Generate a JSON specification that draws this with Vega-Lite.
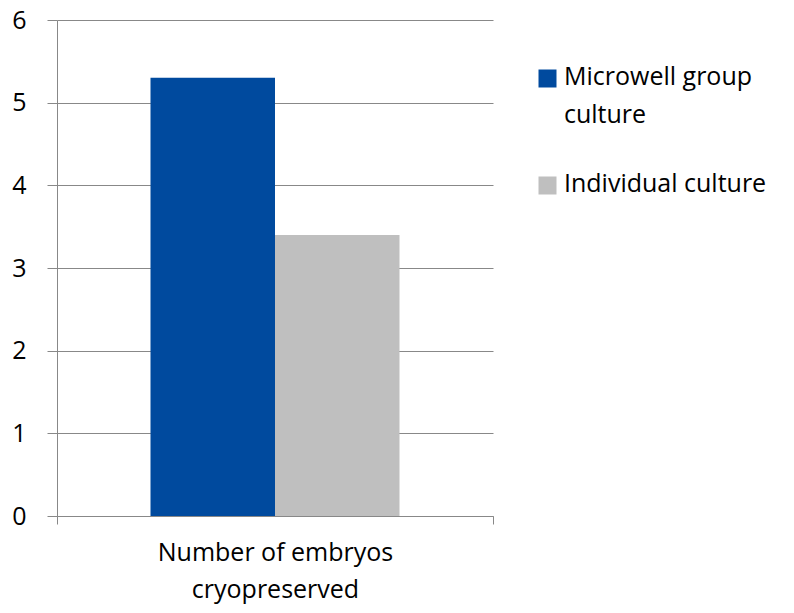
{
  "$schema": "https://vega.github.io/schema/vega-lite/v6.json",
  "width": 436,
  "height": 496,
  "autosize": {"type": "none"},
  "padding": {"left": 57, "top": 20, "right": 301, "bottom": 97},
  "background": "white",
  "config": {
    "view": {"stroke": null},
    "font": "Open Sans"
  },
  "data": {
    "values": [
      {"category": "Number of embryos cryopreserved", "series": "Microwell group culture", "value": 5.3},
      {"category": "Number of embryos cryopreserved", "series": "Individual culture", "value": 3.4}
    ]
  },
  "mark": {"type": "bar"},
  "encoding": {
    "x": {
      "field": "category",
      "type": "nominal",
      "scale": {"paddingInner": 0, "paddingOuter": 0},
      "axis": {
        "title": null,
        "labelAngle": 0,
        "labelFontSize": 25,
        "labelColor": "#000000",
        "labelPadding": 16,
        "labelLineHeight": 37,
        "labelLimit": 600,
        "labelExpr": "datum.label == 'Number of embryos cryopreserved' ? ['Number of embryos', 'cryopreserved'] : datum.label",
        "tickBand": "extent",
        "tickSize": 8,
        "tickColor": "#888888",
        "domainColor": "#888888",
        "grid": false
      }
    },
    "xOffset": {
      "field": "series",
      "type": "nominal",
      "sort": ["Microwell group culture", "Individual culture"],
      "scale": {"paddingInner": 0, "paddingOuter": 0.751}
    },
    "y": {
      "field": "value",
      "type": "quantitative",
      "scale": {"domain": [0, 6], "nice": false},
      "axis": {
        "title": null,
        "values": [0, 1, 2, 3, 4, 5, 6],
        "labelFontSize": 25,
        "labelColor": "#000000",
        "labelPadding": 21,
        "tickSize": 10,
        "tickColor": "#888888",
        "domainColor": "#888888",
        "gridColor": "#888888",
        "grid": true
      }
    },
    "color": {
      "field": "series",
      "type": "nominal",
      "sort": ["Microwell group culture", "Individual culture"],
      "scale": {"domain": ["Microwell group culture", "Individual culture"], "range": ["#004A9E", "#BFBFBF"]},
      "legend": {
        "title": null,
        "orient": "none",
        "legendX": 478,
        "legendY": 46,
        "symbolType": "square",
        "symbolSize": 324,
        "symbolStrokeWidth": 0,
        "labelFontSize": 25,
        "labelColor": "#000000",
        "labelBaseline": "top",
        "labelOffset": 4,
        "rowPadding": 43,
        "labelLimit": 300,
        "labelExpr": "datum.label == 'Microwell group culture' ? ['Microwell group', 'culture'] : datum.label",
        "encode": {
          "labels": {"update": {"lineHeight": {"value": 38}, "dy": {"value": -14}}}
        }
      }
    }
  }
}
